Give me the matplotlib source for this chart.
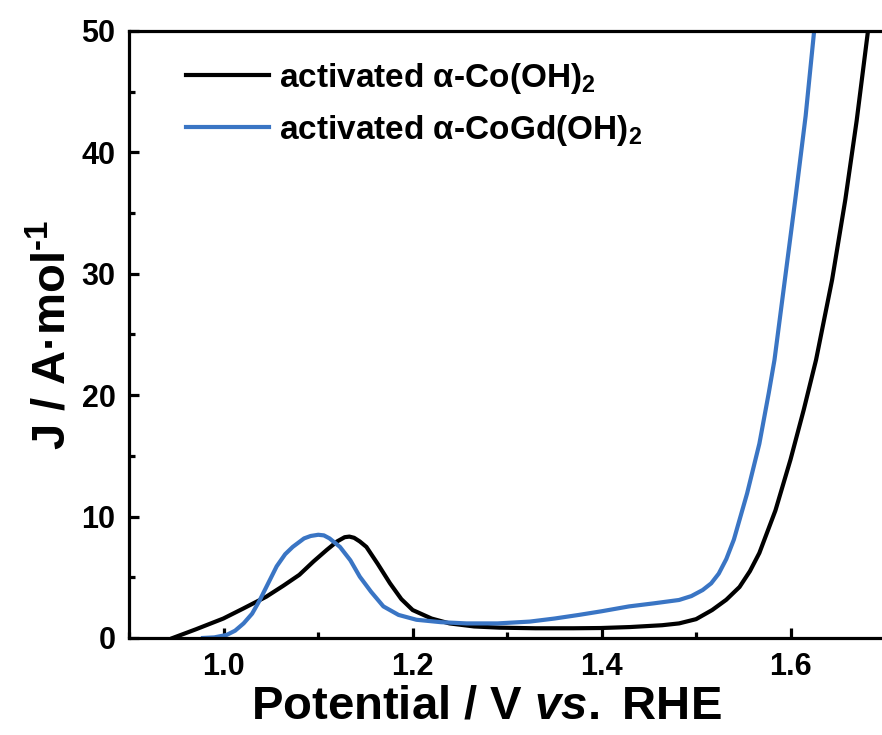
import matplotlib
matplotlib.use("Agg")
import matplotlib.pyplot as plt
from matplotlib.ticker import MultipleLocator

plt.rcParams['font.family'] = ['Liberation Sans', 'DejaVu Sans']
plt.rcParams['mathtext.fontset'] = 'custom'
plt.rcParams['mathtext.rm'] = 'Liberation Sans:bold'
plt.rcParams['mathtext.it'] = 'Liberation Sans:italic:bold'
plt.rcParams['mathtext.bf'] = 'Liberation Sans:bold'

# Data
co_V = [0.946, 0.970, 0.9995, 1.020, 1.045, 1.063, 1.080, 1.095, 1.109, 1.120, 1.128,
        1.133, 1.138, 1.144, 1.151, 1.163, 1.176, 1.188, 1.200, 1.220, 1.239, 1.265,
        1.292, 1.330, 1.370, 1.399, 1.430, 1.464, 1.482, 1.500, 1.517, 1.532, 1.546,
        1.557, 1.567, 1.584, 1.600, 1.614, 1.627, 1.644, 1.658, 1.670, 1.682]
co_J = [0.0, 0.7, 1.6, 2.4, 3.4, 4.3, 5.2, 6.3, 7.25, 7.95, 8.3,
        8.35, 8.25, 7.95, 7.5, 6.1, 4.5, 3.2, 2.3, 1.6, 1.2, 0.95,
        0.85, 0.8, 0.8, 0.82, 0.9, 1.05, 1.2, 1.55, 2.3, 3.15, 4.2,
        5.5, 7.0, 10.5, 14.7, 18.8, 22.9, 29.5, 36.1, 42.6, 50.0]

cogd_V = [0.978, 0.990, 1.003, 1.012, 1.021, 1.030, 1.038, 1.047, 1.056, 1.065, 1.073,
          1.085, 1.092, 1.100, 1.106, 1.112, 1.123, 1.134, 1.144, 1.156, 1.169, 1.185,
          1.204, 1.230, 1.257, 1.290, 1.324, 1.350, 1.376, 1.400, 1.429, 1.455, 1.482,
          1.495, 1.507, 1.516, 1.524, 1.532, 1.540, 1.554, 1.567, 1.577, 1.583, 1.594,
          1.605, 1.616, 1.625]
cogd_J = [0.0, 0.05, 0.25, 0.6, 1.2, 2.0, 3.1, 4.5, 5.9, 6.9, 7.5,
          8.2, 8.4, 8.5, 8.45, 8.2, 7.5, 6.4, 5.05, 3.8, 2.6, 1.9,
          1.5, 1.3, 1.2, 1.2, 1.35, 1.6, 1.9, 2.2, 2.6, 2.85, 3.13,
          3.45, 3.95, 4.5, 5.3, 6.5, 8.1, 11.9, 16.0, 20.2, 22.9, 29.5,
          36.1, 43.0, 50.0]

labels = [r'activated α-Co(OH)$_2$', r'activated α-CoGd(OH)$_2$']
colors = ['#000000', '#3a75c4']

fig = plt.figure(figsize=(8.82, 7.35), dpi=100)
ax = fig.add_axes([0.1466, 0.132, 1.0034 - 0.1466, 0.958 - 0.132])

ax.plot(co_V, co_J, color=colors[0], lw=3.0, label=labels[0])
ax.plot(cogd_V, cogd_J, color=colors[1], lw=3.0, label=labels[1])

ax.set_xlim(0.9, 1.7)
ax.set_ylim(0, 50)
ax.xaxis.set_major_locator(MultipleLocator(0.2))
ax.xaxis.set_minor_locator(MultipleLocator(0.1))
ax.yaxis.set_major_locator(MultipleLocator(10))
ax.yaxis.set_minor_locator(MultipleLocator(5))
ax.set_xticks([1.0, 1.2, 1.4, 1.6])
ax.set_xticklabels(['1.0', '1.2', '1.4', '1.6'])

for s in ['left', 'bottom', 'top']:
    ax.spines[s].set_linewidth(2.3)
ax.spines['right'].set_visible(False)

ax.tick_params(which='major', direction='in', length=7, width=2.3, labelsize=22, pad=10,
               top=False, right=False)
ax.tick_params(which='minor', direction='in', length=4, width=2.3, top=False, right=False)
for lab in ax.get_xticklabels() + ax.get_yticklabels():
    lab.set_fontweight('bold')

ax.set_xlabel(r'Potential / V $\it{vs.}$ RHE', fontsize=34, fontweight='bold')
ax.xaxis.set_label_coords(0.472, -0.077)
ax.set_ylabel(r'J / A·mol$^{\text{-1}}$', fontsize=34, fontweight='bold', labelpad=4)

leg = ax.legend(loc='upper left', bbox_to_anchor=(0.035, 1.0), frameon=False,
                prop={'size': 24, 'weight': 'bold'}, handlelength=2.5,
                labelspacing=0.5, handletextpad=0.3)

fig.savefig('out.png', dpi=100)
